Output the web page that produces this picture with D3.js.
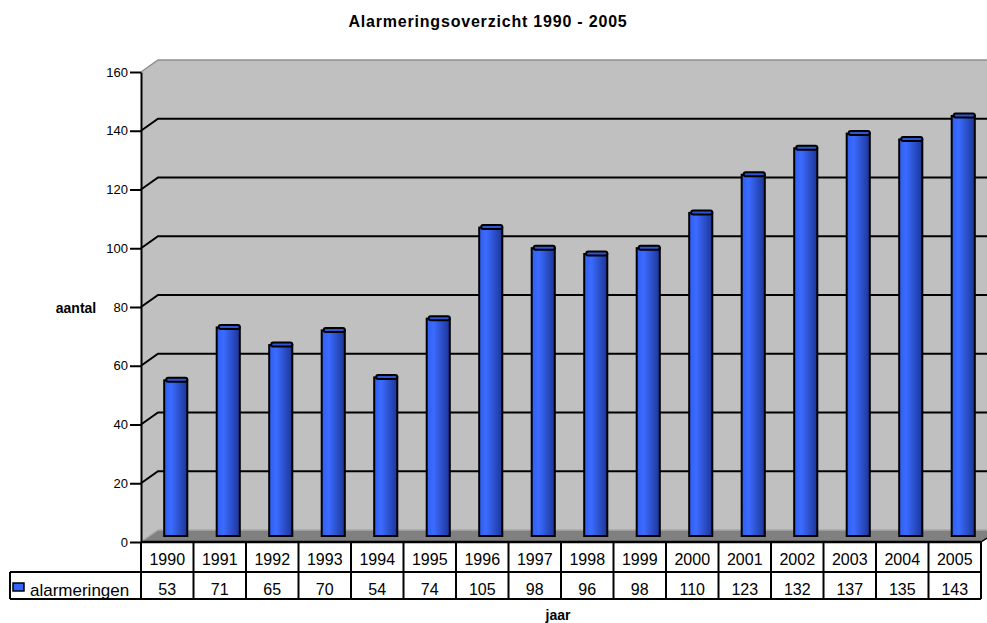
<!DOCTYPE html>
<html>
<head>
<meta charset="utf-8" />
<title>Alarmeringsoverzicht 1990 - 2005</title>
<script src="https://d3js.org/d3.v7.min.js"></script>
<style>
    body { margin: 0; background: #fff; }
    text { font-family: "Liberation Sans", Arial, sans-serif; fill: #000; }
    .axis path, .axis line { stroke: #000; stroke-width: 2px; }
</style>
</head>
<body>
<svg id="chart" width="987" height="623"></svg>
<script>
    var years = ["1990", "1991", "1992", "1993", "1994", "1995", "1996", "1997",
                 "1998", "1999", "2000", "2001", "2002", "2003", "2004", "2005"];
    var alarmeringen = [53, 71, 65, 70, 54, 74, 105, 98, 96, 98, 110, 123, 132, 137, 135, 143];
    var yTicks = [0, 20, 40, 60, 80, 100, 120, 140, 160];

    var data = years.map(function(y, i) { return { year: y, value: alarmeringen[i] }; });

    var svg = d3.select("#chart");

    // plot box (front face) and 3D depth offset
    var plotLeft = 141, plotRight = 981, plotTop = 72, plotBottom = 542;
    var depthX = 17, depthY = -12;

    var x = d3.scaleBand().domain(years).range([plotLeft, plotRight]);
    var y = d3.scaleLinear().domain([0, 160]).range([plotBottom, plotTop]);

    var defs = svg.append("defs");
    var grad = defs.append("linearGradient").attr("id", "barGrad")
        .attr("x1", "0%").attr("x2", "100%").attr("y1", "0%").attr("y2", "0%");
    grad.append("stop").attr("offset", "0%").attr("stop-color", "#2f5ef0");
    grad.append("stop").attr("offset", "30%").attr("stop-color", "#3b6bff");
    grad.append("stop").attr("offset", "100%").attr("stop-color", "#1c3597");

    // walls
    svg.append("rect")
        .attr("x", plotLeft + depthX).attr("y", plotTop + depthY)
        .attr("width", 987 - plotLeft - depthX).attr("height", plotBottom - plotTop)
        .attr("fill", "#c0c0c0");
    svg.append("path")
        .attr("d", "M" + plotLeft + "," + plotTop + "L" + (plotLeft + depthX) + "," + (plotTop + depthY) +
            "L" + (plotLeft + depthX) + "," + (plotBottom + depthY) + "L" + plotLeft + "," + plotBottom + "Z")
        .attr("fill", "#c0c0c0");
    svg.append("path")
        .attr("d", "M" + plotLeft + "," + plotTop + "L" + (plotLeft + depthX) + "," + (plotTop + depthY) + "L987," + (plotTop + depthY))
        .attr("fill", "none").attr("stroke", "#909090").attr("stroke-width", 1.5);

    // floor
    svg.append("path")
        .attr("d", "M" + plotLeft + "," + plotBottom + "L" + (plotLeft + depthX) + "," + (plotBottom + depthY) +
            "L987," + (plotBottom + depthY) + "L987," + (plotBottom - 4) + "L" + plotRight + "," + plotBottom + "Z")
        .attr("fill", "#808080");
    svg.append("path")
        .attr("d", "M" + (plotLeft + 1) + "," + (plotBottom - 1) + "L" + (plotLeft + depthX) + "," + (plotBottom + depthY) + "L987," + (plotBottom + depthY))
        .attr("fill", "none").attr("stroke", "#a8a8a8").attr("stroke-width", 1.5);

    // gridlines
    var grid = svg.append("g");
    yTicks.slice(1, -1).forEach(function(t) {
        grid.append("path")
            .attr("d", "M" + plotLeft + "," + y(t) + "L" + (plotLeft + depthX) + "," + (y(t) + depthY) + "L987," + (y(t) + depthY))
            .attr("fill", "none").attr("stroke", "#000").attr("stroke-width", 2);
    });

    // bars
    var barW = x.bandwidth() * 0.44;
    var bars = svg.append("g").selectAll("g.bar").data(data).enter().append("g").attr("class", "bar");
    bars.append("rect")
        .attr("x", function(d) { return x(d.year) + x.bandwidth() / 2 - barW / 2 + depthX / 2; })
        .attr("y", function(d) { return y(d.value) + depthY / 2; })
        .attr("width", barW)
        .attr("height", function(d) { return y(0) - y(d.value); })
        .attr("fill", "url(#barGrad)")
        .attr("stroke", "#000").attr("stroke-width", 2);
    bars.append("rect")
        .attr("x", function(d) { return x(d.year) + x.bandwidth() / 2 - barW / 2 + depthX / 2 + 2; })
        .attr("y", function(d) { return y(d.value) + depthY / 2 - 2.5; })
        .attr("width", barW - 2)
        .attr("height", 4)
        .attr("rx", 2)
        .attr("fill", "#2d55d6")
        .attr("stroke", "#000").attr("stroke-width", 2);

    // y axis
    svg.append("g")
        .attr("class", "axis")
        .attr("transform", "translate(" + plotLeft + ",0)")
        .call(d3.axisLeft(y).tickValues(yTicks).tickSize(11).tickSizeOuter(0).tickPadding(2))
        .call(function(g) {
            g.select(".domain").attr("stroke-width", 2.5);
            g.selectAll("text").attr("font-size", "13px").attr("font-family", "Liberation Sans, Arial");
        });

    // data table
    var rowTop = plotBottom, rowMid = 572, rowBot = 599;
    var table = svg.append("g");
    table.append("rect").attr("x", plotLeft).attr("y", rowTop).attr("width", plotRight - plotLeft).attr("height", rowBot - rowTop).attr("fill", "#fff");
    table.append("rect").attr("x", 10).attr("y", rowMid).attr("width", plotLeft - 10).attr("height", rowBot - rowMid).attr("fill", "#fff");
    table.append("line").attr("x1", plotLeft).attr("x2", plotRight).attr("y1", rowTop).attr("y2", rowTop).attr("stroke", "#000").attr("stroke-width", 2.5);
    table.append("line").attr("x1", 10).attr("x2", plotRight).attr("y1", rowMid).attr("y2", rowMid).attr("stroke", "#000").attr("stroke-width", 2);
    table.append("line").attr("x1", 10).attr("x2", plotRight).attr("y1", rowBot).attr("y2", rowBot).attr("stroke", "#000").attr("stroke-width", 2);
    table.append("line").attr("x1", 10).attr("x2", 10).attr("y1", rowMid).attr("y2", rowBot).attr("stroke", "#000").attr("stroke-width", 2);
    table.append("path").attr("d", "M" + plotRight + "," + rowTop + "L987," + (rowTop - 4)).attr("stroke", "#000").attr("stroke-width", 1.5);
    table.selectAll("line.col").data(years.concat(["end"])).enter().append("line")
        .attr("x1", function(d, i) { return plotLeft + i * x.step(); })
        .attr("x2", function(d, i) { return plotLeft + i * x.step(); })
        .attr("y1", rowTop).attr("y2", rowBot)
        .attr("stroke", "#000").attr("stroke-width", 2);
    table.selectAll("text.year").data(data).enter().append("text")
        .attr("x", function(d) { return x(d.year) + x.bandwidth() / 2; })
        .attr("y", 565)
        .attr("text-anchor", "middle").attr("font-size", "16px")
        .text(function(d) { return d.year; });
    table.selectAll("text.val").data(data).enter().append("text")
        .attr("x", function(d) { return x(d.year) + x.bandwidth() / 2; })
        .attr("y", 595)
        .attr("text-anchor", "middle").attr("font-size", "16px")
        .text(function(d) { return d.value; });

    // legend key
    table.append("rect").attr("x", 13).attr("y", 583).attr("width", 11).attr("height", 8)
        .attr("fill", "#3366ff").attr("stroke", "#000").attr("stroke-width", 1.5);
    table.append("text").attr("x", 30).attr("y", 596).attr("font-size", "17px").text("alarmeringen");

    // titles
    svg.append("text").attr("x", 488).attr("y", 27).attr("text-anchor", "middle")
        .attr("font-size", "16px").attr("font-weight", "bold").attr("letter-spacing", "0.8px")
        .text("Alarmeringsoverzicht 1990 - 2005");
    svg.append("text").attr("x", 76).attr("y", 313).attr("text-anchor", "middle")
        .attr("font-size", "14px").attr("font-weight", "bold").text("aantal");
    svg.append("text").attr("x", 558).attr("y", 620).attr("text-anchor", "middle")
        .attr("font-size", "14px").attr("font-weight", "bold").text("jaar");
</script>
</body>
</html>
